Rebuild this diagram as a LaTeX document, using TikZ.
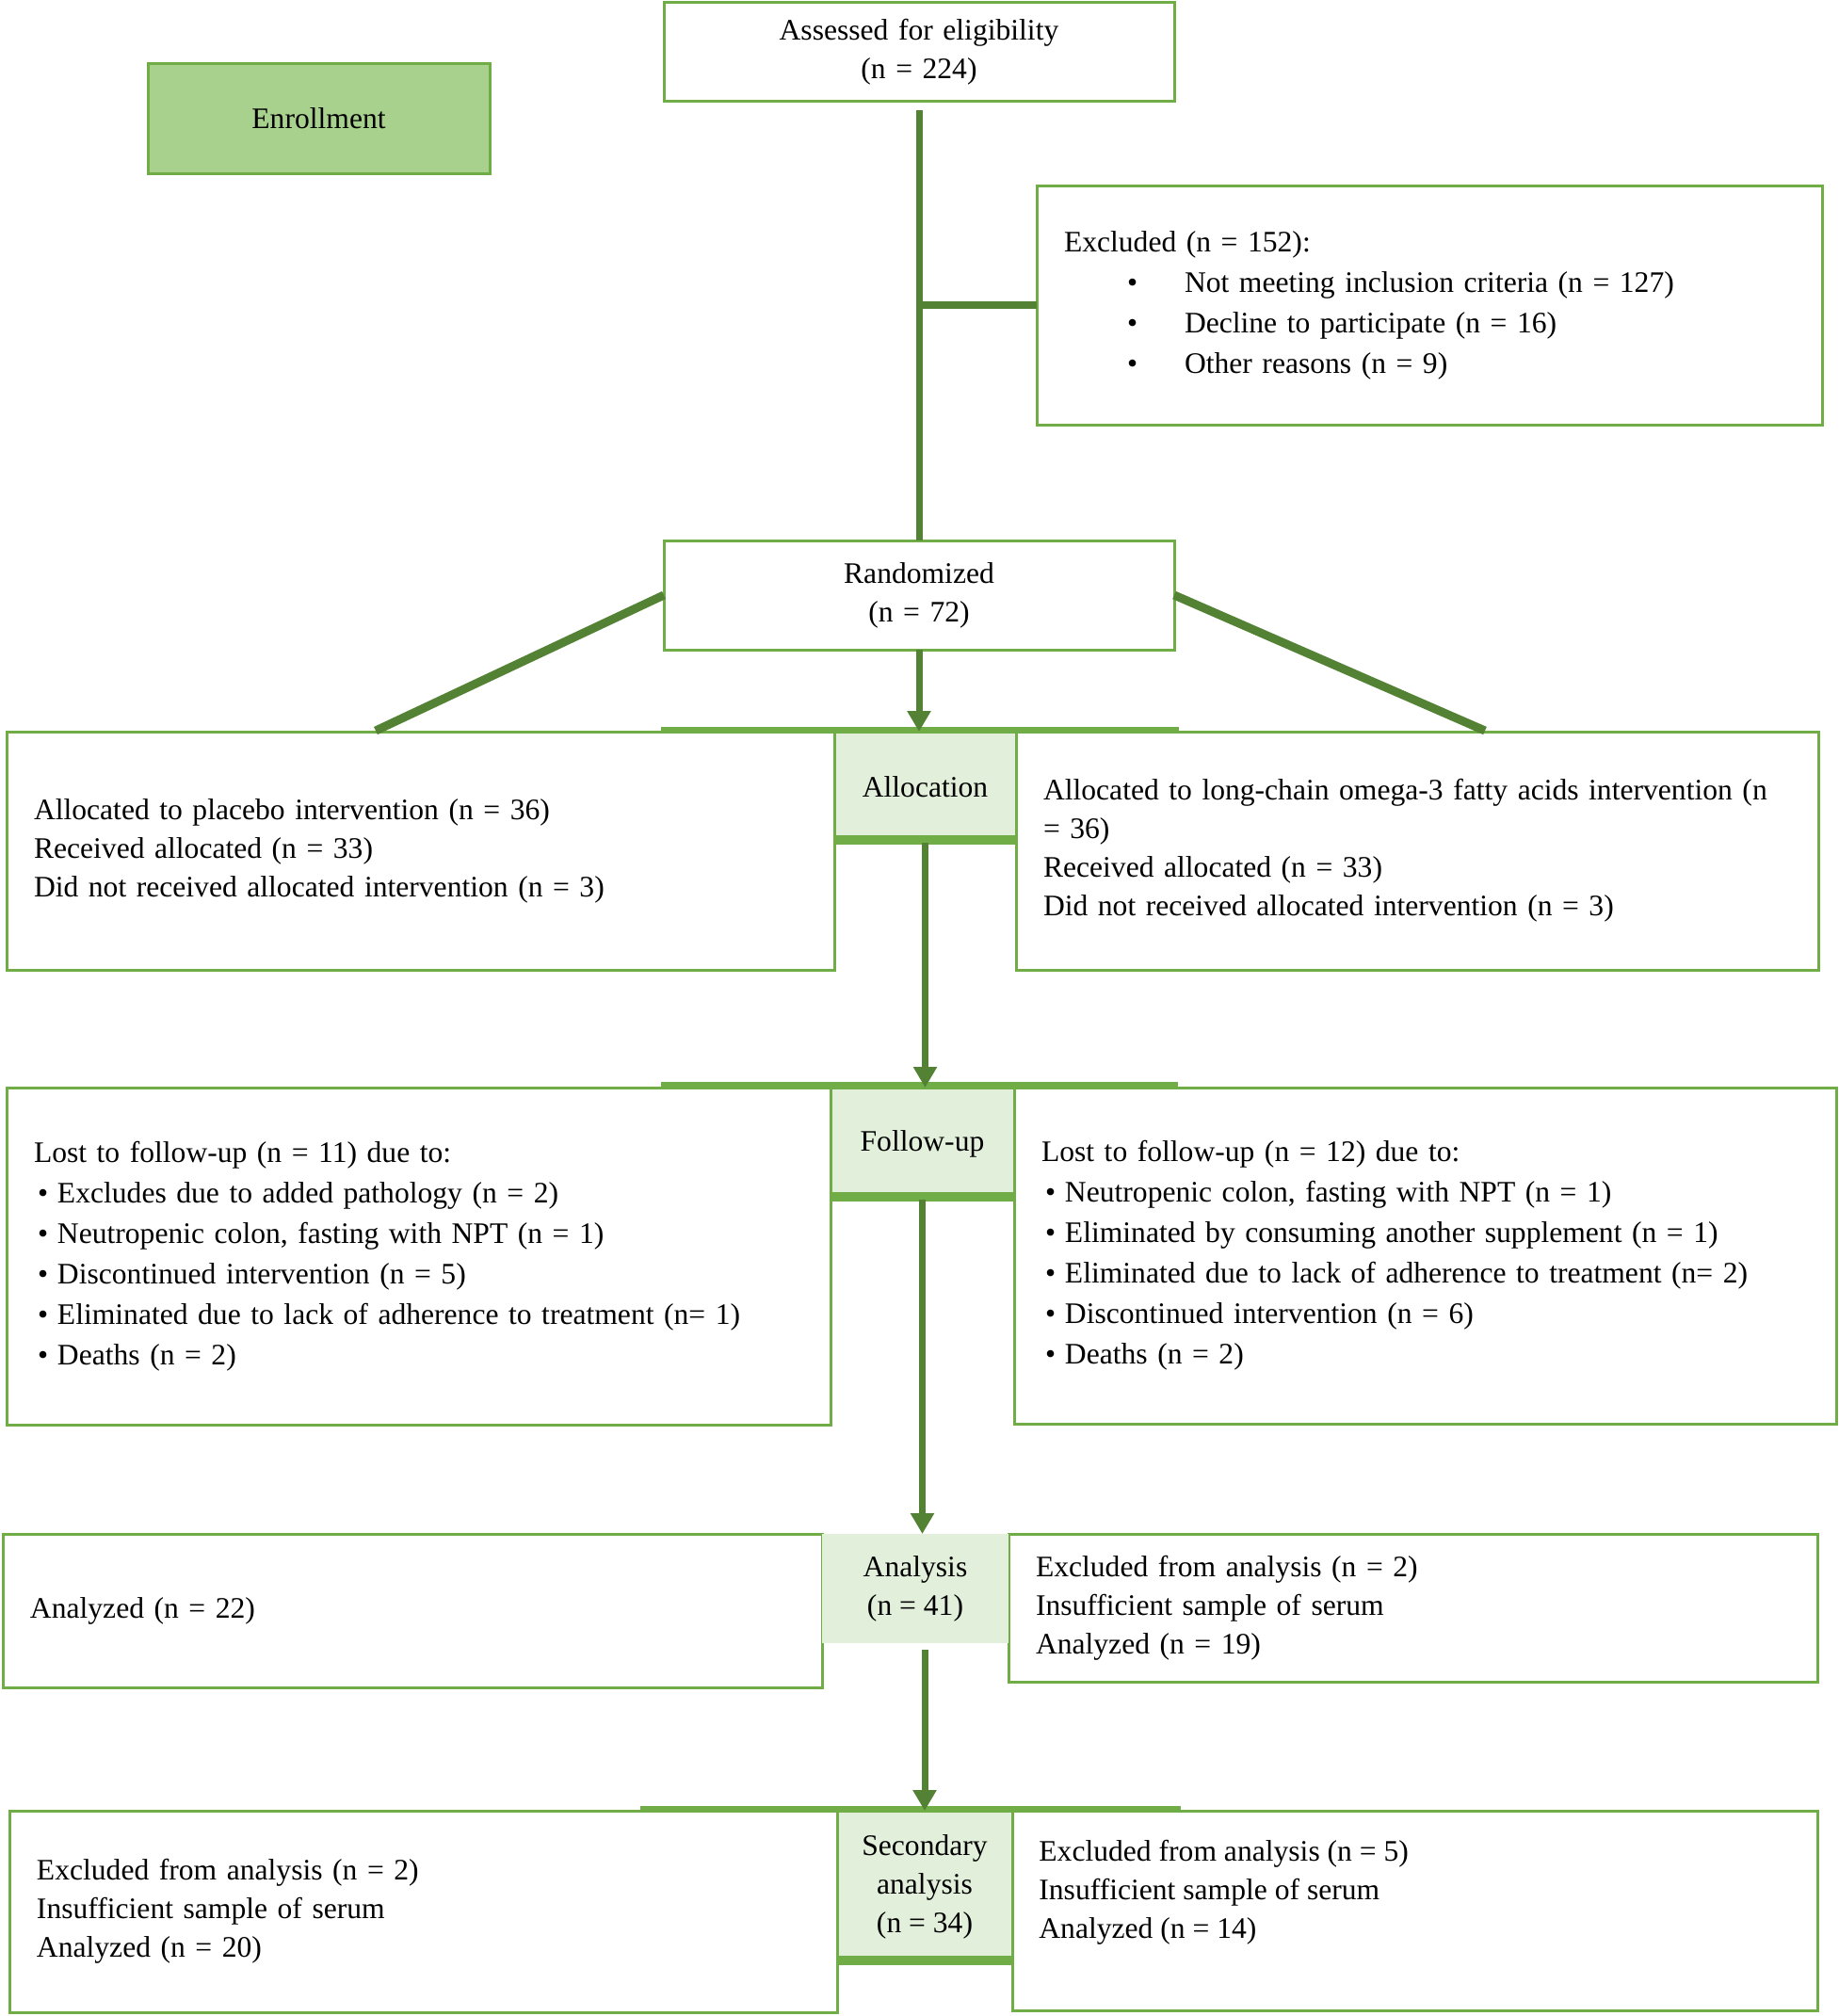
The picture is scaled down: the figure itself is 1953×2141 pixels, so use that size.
\documentclass[tikz,border=0pt]{standalone}
\usepackage{fontspec}
\setmainfont{Liberation Serif}
\usetikzlibrary{arrows.meta,calc}
\definecolor{bord}{HTML}{70AD47}
\definecolor{conncol}{HTML}{548235}
\definecolor{enrollfill}{HTML}{A9D18E}
\definecolor{stagefill}{HTML}{E2EFDA}
\newcommand{\blt}{\hspace*{2pt}\makebox[10.5pt][l]{\textbullet}}
\newcommand{\xblt}{\hspace*{33.5pt}\makebox[30.5pt][l]{\textbullet}}
\begin{document}
\begin{tikzpicture}[x=0.5pt,y=-0.5pt,
  every node/.style={font=\fontsize{15.8pt}{20.5pt}\selectfont},
  listfont/.style={font=\fontsize{15.8pt}{21.5pt}\selectfont},
  box/.style={draw=bord, line width=1.5pt, fill=white, inner xsep=14.5pt, inner ysep=0pt, outer sep=0pt, align=left},
  stage/.style={draw=bord, line width=1.5pt, fill=stagefill, inner sep=0pt, outer sep=0pt, align=center},
  conn/.style={draw=conncol, line width=3.5pt},
  arr/.style={conn, -{Triangle[width=12pt,length=11pt]}},
  bar/.style={draw=bord, line width=3pt},
  thickbottom/.style={draw=bord, line width=4pt},
]
\useasboundingbox (0,0) rectangle (1953,2141);

% Enrollment
\node[draw=bord, fill=enrollfill, line width=1.5pt, minimum width=181.5pt, minimum height=58pt, inner sep=0pt, outer sep=0pt] (enroll) at (338.5,126) {Enrollment};

\node[box, minimum width=271pt, minimum height=52.5pt, text width=242pt, align=center] (assess) at (976,55.5) {Assessed for eligibility\\(n = 224)};

\node[box, listfont, minimum width=417pt, minimum height=127pt, text width=388pt] (excl) at (1518,324) {Excluded (n = 152):\\
\xblt Not meeting inclusion criteria (n = 127)\\
\xblt Decline to participate (n = 16)\\
\xblt Other reasons (n = 9)};

\node[box, minimum width=271pt, minimum height=58pt, text width=242pt, align=center] (rand) at (976,632) {Randomized\\(n = 72)};

% Allocation row
\node[box, minimum width=439.5pt, minimum height=126.5pt, text width=410.5pt] (la) at (446.5,903.5) {Allocated to placebo intervention (n = 36)\\Received allocated (n = 33)\\Did not received allocated intervention (n = 3)};
\node[box, minimum width=426pt, minimum height=126.5pt, text width=397pt] (ra) at (1505,903.5) {Allocated to long-chain omega-3 fatty acids intervention (n\\= 36)\\Received allocated (n = 33)\\Did not received allocated intervention (n = 3)};
\draw[bar] (702,775) -- (1252,775);
\node[stage, minimum width=96.5pt, minimum height=59pt] (alloc) at (982.5,836) {Allocation};
\draw[thickbottom] ([yshift=2pt]alloc.south west) -- ([yshift=2pt]alloc.south east);

% Follow-up row
\node[box, listfont, minimum width=437.5pt, minimum height=179pt, text width=408.5pt] (lf) at (444.5,1334) {Lost to follow-up (n = 11) due to:\\
\blt Excludes due to added pathology (n = 2)\\
\blt Neutropenic colon, fasting with NPT (n = 1)\\
\blt Discontinued intervention (n = 5)\\
\blt Eliminated due to lack of adherence to treatment (n= 1)\\
\blt Deaths (n = 2)};
\node[box, listfont, minimum width=436.5pt, minimum height=178.5pt, text width=407.5pt] (rf) at (1513.5,1333.5) {Lost to follow-up (n = 12) due to:\\
\blt Neutropenic colon, fasting with NPT (n = 1)\\
\blt Eliminated by consuming another supplement (n = 1)\\
\blt Eliminated due to lack of adherence to treatment (n= 2)\\
\blt Discontinued intervention (n = 6)\\
\blt Deaths (n = 2)};
\draw[bar] (702,1152) -- (1251,1152);
\node[stage, minimum width=97.5pt, minimum height=59.5pt] (follow) at (979.5,1214.5) {Follow-up};
\draw[thickbottom] ([yshift=2pt]follow.south west) -- ([yshift=2pt]follow.south east);

% Analysis row
\node[box, minimum width=435pt, minimum height=81.5pt, text width=406pt] (lan) at (438,1710.5) {Analyzed (n = 22)};
\node[box, minimum width=429.5pt, minimum height=78.5pt, text width=400.5pt] (ran) at (1500.5,1707.5) {Excluded from analysis (n = 2)\\Insufficient sample of serum\\Analyzed (n = 19)};
\node[stage, draw=none, minimum width=99pt, minimum height=58pt] (anal) at (972,1687) {Analysis\\(n = 41)};

% Secondary analysis row
\node[box, minimum width=439.5pt, minimum height=107pt, text width=410.5pt] (ls) at (449.5,2030) {Excluded from analysis (n = 2)\\Insufficient sample of serum\\Analyzed (n = 20)};
\node[box, minimum width=427.5pt, minimum height=106pt, text width=398.5pt] (rs) at (1502.5,2029) {};
\node[anchor=west, align=left, inner sep=0pt] (rstext) at (1103,2010) {Excluded from analysis (n = 5)\\Insufficient sample of serum\\Analyzed (n = 14)};
\draw[bar] (680,1921) -- (1254,1921);
\node[stage, minimum width=93pt, minimum height=81pt] (sec) at (982,2004) {Secondary\\analysis\\(n = 34)};
\draw[thickbottom] ([yshift=2pt]sec.south west) -- ([yshift=2pt]sec.south east);

% Connectors
\coordinate (dl) at (399,776);
\coordinate (dr) at (1577,776);
\draw[conn, shorten <=4.5pt] (assess.south) -- (rand.north);
\draw[conn, line width=4pt] (assess.south |- excl.west) -- (excl.west);
\draw[conn, line width=4.5pt] (rand.west) -- (dl);
\draw[conn, line width=4.5pt] (rand.east) -- (dr);
\draw[arr] (rand.south) -- (rand.south |- alloc.north);
\draw[arr] (alloc.south) -- (alloc.south |- follow.north);
\draw[arr] (follow.south) -- (follow.south |- anal.north);
\draw[arr, shorten <=3.5pt] (anal.south -| sec.north) -- (sec.north);
\end{tikzpicture}
\end{document}
